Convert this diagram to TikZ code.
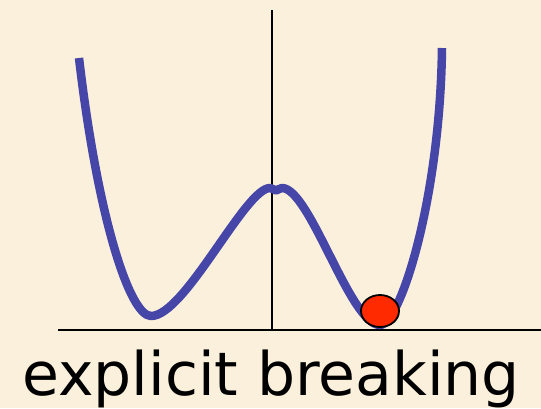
\documentclass[tikz,border=0pt]{standalone}
\usepackage{fontspec}
\setmainfont{DejaVu Sans}
\usetikzlibrary{positioning}
\definecolor{paper}{HTML}{FBF0DB}
\definecolor{wellblue}{HTML}{4646A8}
\definecolor{ballred}{HTML}{FF2A00}

\begin{document}
\begin{tikzpicture}[x=1pt, y=-1pt,
  axis/.style={draw=black, line width=1.3pt},
  potential/.style={draw=wellblue, line width=8.5pt, line cap=butt, line join=round},
  ball/.style={draw=black, fill=ballred, line width=1.8pt},
  caption/.style={font=\fontsize{60}{64}\selectfont, inner sep=0pt}]

\fill[paper] (0,0) rectangle (541,408);
\useasboundingbox (0,0) rectangle (541,408);

% axes
\draw[axis] (272,10) -- (272,330);
\draw[axis] (58,330) -- (541,330);

% potential with tilted minima
\draw[potential] (79,58) .. controls (98,220) and (130,316) .. (151,316)
  .. controls (185,316) and (245,188) .. (270,188)
  .. controls (273,188) and (274,190.5) .. (276,190.5)
  .. controls (278,190.5) and (279,188) .. (282,188)
  .. controls (310,188) and (350,325) .. (380,325)
  .. controls (400,325) and (440,200) .. (442,48);

% the ball
\draw[ball] (380,311) ellipse [x radius=19, y radius=16];

\node[caption, anchor=base] (lbl) at (271,395) {explicit breaking};
\end{tikzpicture}
\end{document}
